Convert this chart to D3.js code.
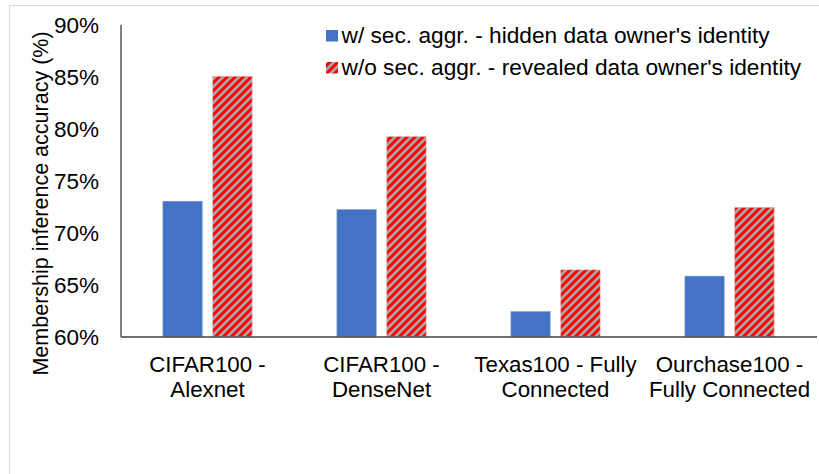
<!DOCTYPE html>
<html>
<head>
<meta charset="utf-8">
<script src="https://cdn.jsdelivr.net/npm/d3@7"></script>
<style>
  html, body { margin: 0; padding: 0; background: #fff; }
  svg { display: block; font-family: "Liberation Sans", Arial, sans-serif; }
</style>
</head>
<body>
<svg id="chart" width="819" height="474"></svg>
<script>
const categories = ["CIFAR100 -\nAlexnet", "CIFAR100 -\nDenseNet", "Texas100 - Fully\nConnected", "Ourchase100 -\nFully Connected"];
const seriesNames = ["w/ sec. aggr. - hidden data owner's identity", "w/o sec. aggr. - revealed data owner's identity"];
const hiddenValues = [73.0, 72.2, 62.4, 65.8];
const revealedValues = [85.0, 79.2, 66.4, 72.4];
const yTicks = [60, 65, 70, 75, 80, 85, 90];

(function () {
const svg = d3.select("#chart");
const W = 819, H = 474;
const pLeft = 120.5, pRight = 816.5, pTop = 24.3, pBottom = 336.5;

// frame border
svg.append("rect").attr("x", 9.5).attr("y", 5.5).attr("width", W).attr("height", H)
  .attr("fill", "none").attr("stroke", "#d9d9d9").attr("stroke-width", 1);

// hatch pattern
const defs = svg.append("defs");
const pat = defs.append("pattern").attr("id", "hatch").attr("patternUnits", "userSpaceOnUse")
  .attr("width", 8).attr("height", 8);
pat.append("rect").attr("width", 8).attr("height", 8).attr("fill", "#a6a6a6");
pat.append("path").attr("d", "M-2,2 L2,-2 M0,8 L8,0 M6,10 L10,6")
  .attr("stroke", "#ff0000").attr("stroke-width", 2.9);

const x0 = d3.scaleBand().domain(categories).range([pLeft, pRight]).padding(0);
const x1 = d3.scaleBand().domain([0, 1]).range([0, x0.bandwidth()]).paddingInner(0.2124).paddingOuter(0.85);
const y = d3.scaleLinear().domain([60, 90]).range([pBottom, pTop]);

const data = categories.map((c, i) => ({ cat: c, vals: [hiddenValues[i], revealedValues[i]] }));
const fills = ["#4472c4", "url(#hatch)"];

const g = svg.append("g");
data.forEach(d => {
  d.vals.forEach((v, s) => {
    g.append("rect")
      .attr("x", x0(d.cat) + x1(s))
      .attr("y", y(v))
      .attr("width", x1.bandwidth())
      .attr("height", y(60) - y(v))
      .attr("fill", fills[s])
      .attr("stroke", s === 0 ? "#7f9fd6" : "#ff9a9a")
      .attr("stroke-width", 0.6);
  });
});

// axes
const yAxis = d3.axisLeft(y).tickValues(yTicks).tickSize(0).tickPadding(21.5).tickFormat(d => d + "%");
const ya = svg.append("g").attr("transform", `translate(${pLeft},0)`).call(yAxis);
ya.select(".domain").attr("stroke", "#404040").attr("stroke-width", 1.3);
ya.selectAll("text").attr("font-size", 22.5).attr("fill", "#000").attr("font-family", "Liberation Sans, Arial, sans-serif").attr("dy", "0.36em");

const xAxis = d3.axisBottom(x0).tickSize(0).tickFormat("");
const xa = svg.append("g").attr("transform", `translate(0,${pBottom})`).call(xAxis);
xa.select(".domain").attr("stroke", "#404040").attr("stroke-width", 1.3);

// category labels
categories.forEach(c => {
  const lines = c.split("\n");
  const t = svg.append("text").attr("text-anchor", "middle").attr("font-size", 22.3).attr("fill", "#000")
    .attr("x", x0(c) + x0.bandwidth() / 2).attr("y", 371.5);
  lines.forEach((ln, i) => t.append("tspan").attr("x", x0(c) + x0.bandwidth() / 2).attr("dy", i === 0 ? 0 : 25).text(ln));
});

// y title
svg.append("text").attr("transform", `translate(47.5,${(27 + 380) / 2}) rotate(-90)`)
  .attr("text-anchor", "middle").attr("font-size", 21.5).attr("fill", "#000")
  .text("Membership inference accuracy (%)");

// legend
const legY = [43.3, 75.3];
seriesNames.forEach((n, i) => {
  svg.append("rect").attr("x", 326).attr("y", legY[i] - 13.3).attr("width", 12).attr("height", 11.5)
    .attr("fill", fills[i]);
  svg.append("text").attr("x", 341.5).attr("y", legY[i])
    .attr("font-size", 22.7).attr("fill", "#000").text(n);
});
})();
</script>
</body>
</html>
